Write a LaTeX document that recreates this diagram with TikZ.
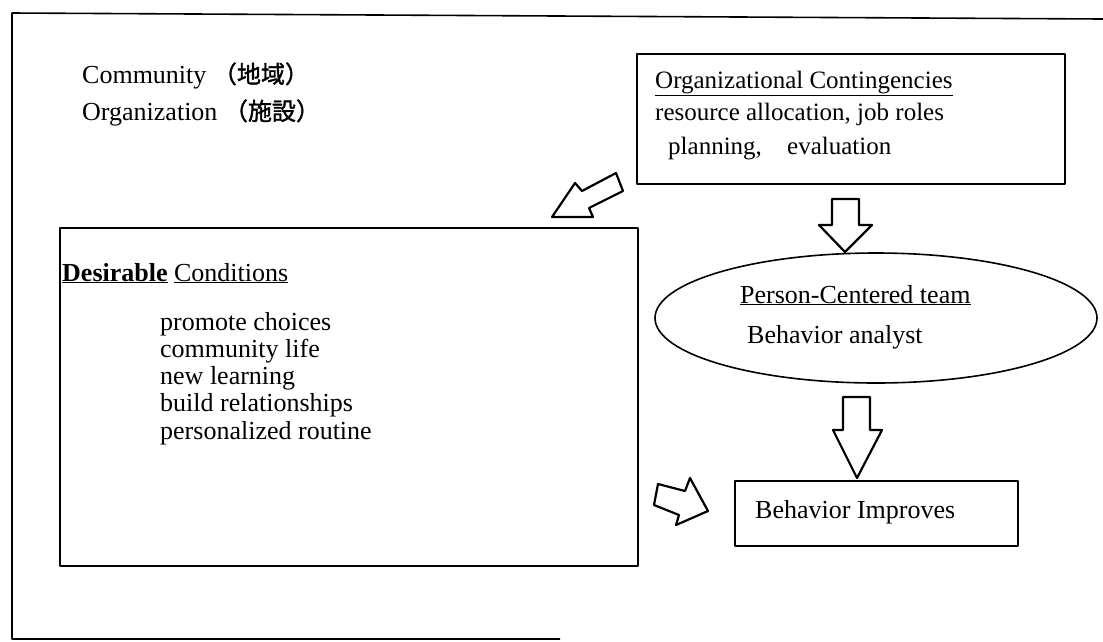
\documentclass[tikz,border=0pt]{standalone}
\usepackage{fontspec}
\setmainfont{Liberation Serif}
\newfontfamily\cjk[FakeBold=1.5]{Noto Sans CJK JP}
\usetikzlibrary{shapes.geometric}
\begin{document}
\begin{tikzpicture}[x=1pt,y=-1pt,
  line join=round,
  frame/.style={line width=1.6pt},
  box/.style={draw, line width=2.2pt, inner sep=0pt, anchor=north west},
  blockarrow/.style={draw, line width=2.2pt, fill=white},
  txt/.style={inner sep=0pt, anchor=base west, font=\fontsize{26}{28}\selectfont},
  smalltxt/.style={txt, font=\fontsize{25}{28}\selectfont},
]
\useasboundingbox (0,0) rectangle (1103,641);
% outer frame (open on right)
\draw[frame] (560,639) -- (12,639) -- (12,13) -- (1103,19);

% labels top left
\node[txt] (comm) at (82,83) {Community {\cjk\fontsize{24}{28}\selectfont （地域）}};
\node[txt] (orgn) at (82,120) {Organization {\cjk\fontsize{24}{28}\selectfont （施設）}};

% Organizational contingencies box
\node[box, minimum width=428pt, minimum height=130pt] (org) at (636,53) {};
\node[smalltxt] (orgt) at (655,88) {\underline{Organizational Contingencies}};
\node[smalltxt] (orgl1) at (655,120) {resource allocation, job roles};
\node[smalltxt] (orgl2) at (668,154) {planning,};
\node[smalltxt] (orgl3) at (787,154) {evaluation};

% Desirable conditions box
\node[box, minimum width=578pt, minimum height=338pt] (des) at (59,227) {};
\node[txt] (dest) at (62,281) {\underline{\textbf{Desirable}} \underline{Conditions}};
\node[txt] (d1) at (160,330) {promote choices};
\node[txt] (d2) at (160,357.3) {community life};
\node[txt] (d3) at (160,384.6) {new learning};
\node[txt] (d4) at (160,411.9) {build relationships};
\node[txt] (d5) at (160,439.2) {personalized routine};

% Person-centered team ellipse
\node[draw, ellipse, line width=1.6pt, minimum width=442pt, minimum height=130pt, inner sep=0pt] (team) at (876,318) {};
\node[txt] (teamt) at (740,303) {\underline{Person-Centered team}};
\node[txt] (teama) at (747,343) {Behavior analyst};

% Behavior improves box
\node[box, minimum width=283pt, minimum height=65pt] (bi) at (734,480) {};
\node[txt] (bit) at (755,518) {Behavior Improves};

% block arrows
\draw[blockarrow] (552,217) -- (575,183) -- (582,191) -- (616,173) -- (623,191) -- (589,208) -- (593,217) -- cycle;
\draw[blockarrow] (832,199) -- (859,199) -- (859,225) -- (872,225) -- (845,252) -- (819,225) -- (832,225) -- cycle;
\draw[blockarrow] (843,397) -- (870,397) -- (870,430) -- (882,430) -- (857,478) -- (833,430) -- (843,430) -- cycle;
\draw[blockarrow] (658,484) -- (685,491) -- (690,478) -- (708,511) -- (676,525) -- (679,515) -- (654,505) -- cycle;
\end{tikzpicture}
\end{document}
